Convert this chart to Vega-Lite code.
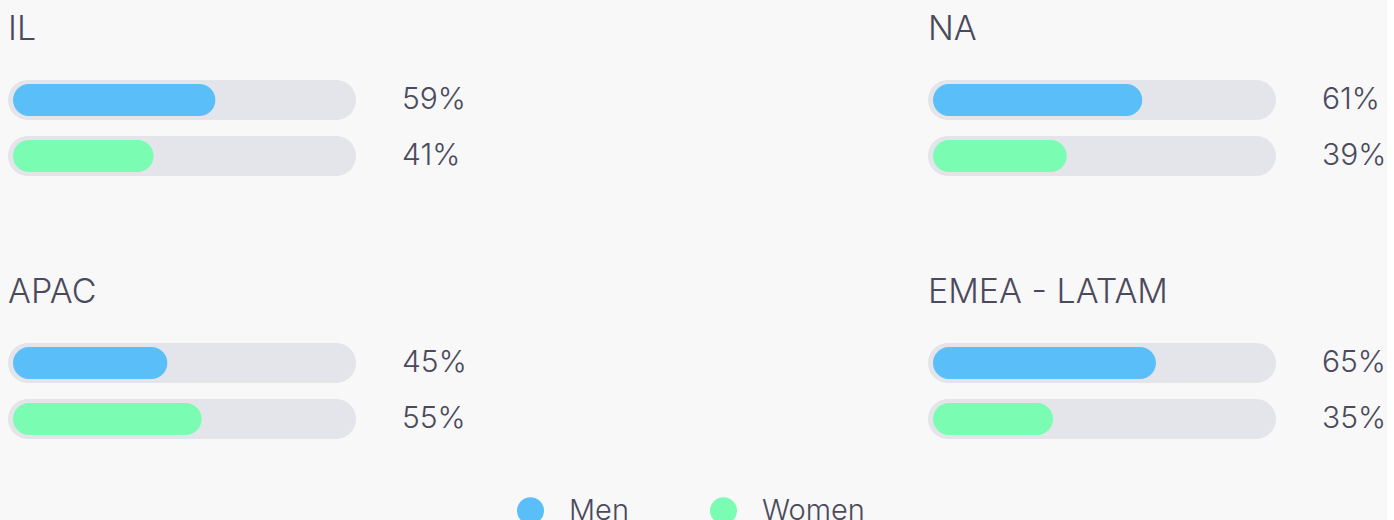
{
  "$schema": "https://vega.github.io/schema/vega-lite/v6.json",
  "background": "#f8f8f8",
  "padding": {"left": 8, "top": 13, "right": 0, "bottom": 0},
  "config": {"view": {"stroke": null}, "font": "Inter"},
  "data": {"values": [
    {"region": "IL", "gender": "Men", "share": 0.59},
    {"region": "IL", "gender": "Women", "share": 0.41},
    {"region": "NA", "gender": "Men", "share": 0.61},
    {"region": "NA", "gender": "Women", "share": 0.39},
    {"region": "APAC", "gender": "Men", "share": 0.45},
    {"region": "APAC", "gender": "Women", "share": 0.55},
    {"region": "EMEA - LATAM", "gender": "Men", "share": 0.65},
    {"region": "EMEA - LATAM", "gender": "Women", "share": 0.35}
  ]},
  "facet": {
    "field": "region", "type": "nominal",
    "sort": ["IL", "NA", "APAC", "EMEA - LATAM"],
    "header": {"title": null, "labelAnchor": "start", "labelAlign": "left", "labelFontSize": 34, "labelFontWeight": 300, "labelColor": "#4b4a5c", "labelFont": "Inter", "labelPadding": 25}
  },
  "columns": 2,
  "bounds": "flush",
  "spacing": {"row": 151, "column": 577},
  "spec": {
    "width": 343,
    "height": 112,
    "encoding": {
      "y": {"field": "gender", "type": "nominal", "sort": ["Men", "Women"], "axis": null, "scale": {"paddingInner": 0.286, "paddingOuter": 0.143}}
    },
    "layer": [
      {
        "mark": {"type": "bar", "color": "#e4e5ea", "cornerRadius": 20, "x2Offset": 5},
        "encoding": {
          "x": {"datum": 0, "type": "quantitative", "scale": {"domain": [0, 1]}, "axis": null},
          "x2": {"datum": 1}
        }
      },
      {
        "mark": {"type": "bar", "cornerRadius": 16, "height": 32, "xOffset": 5, "x2Offset": 5},
        "encoding": {
          "x": {"field": "share", "type": "quantitative"},
          "x2": {"datum": 0},
          "color": {
            "field": "gender", "type": "nominal",
            "scale": {"domain": ["Men", "Women"], "range": ["#5abef9", "#7afcb3"]},
            "legend": {"title": null, "orient": "none", "direction": "horizontal", "legendX": 508, "legendY": 424, "symbolType": "circle", "symbolSize": 729, "symbolOpacity": 1, "symbolStrokeWidth": 0, "labelFontSize": 29, "labelFontWeight": 300, "labelFont": "Inter", "labelColor": "#4b4a5c", "labelOffset": 24, "columnPadding": 80}
          }
        }
      },
      {
        "mark": {"type": "text", "align": "left", "baseline": "middle", "dx": 51, "fontSize": 30, "fontWeight": 300, "color": "#4b4a5c"},
        "encoding": {
          "x": {"datum": 1, "type": "quantitative"},
          "text": {"field": "share", "type": "quantitative", "format": ".0%"}
        }
      }
    ]
  }
}
